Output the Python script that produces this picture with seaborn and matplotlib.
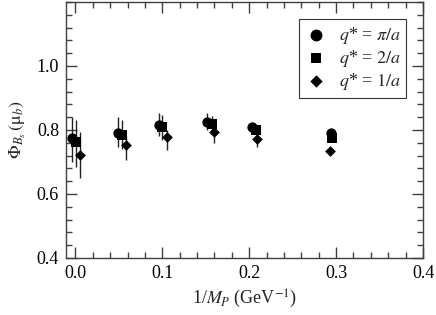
import numpy as np
import pandas as pd
import matplotlib
matplotlib.use('Agg')
import matplotlib.pyplot as plt
import seaborn as sns
from matplotlib.ticker import MultipleLocator

# data
x_pi = [-0.004, 0.049, 0.096, 0.152, 0.203, 0.294]
y_pi = [0.774, 0.792, 0.816, 0.826, 0.810, 0.790]
lo_pi = [0.700, 0.748, 0.780, 0.800, 0.797, 0.780]
hi_pi = [0.840, 0.840, 0.854, 0.853, 0.823, 0.800]

x_2 = [0.001, 0.054, 0.100, 0.157, 0.208, 0.295]
y_2 = [0.763, 0.784, 0.808, 0.819, 0.800, 0.774]
lo_2 = [0.685, 0.740, 0.770, 0.795, 0.790, 0.765]
hi_2 = [0.830, 0.830, 0.847, 0.845, 0.812, 0.785]

x_1 = [0.005, 0.058, 0.105, 0.159, 0.209, 0.293]
y_1 = [0.722, 0.753, 0.779, 0.793, 0.771, 0.734]
lo_1 = [0.650, 0.706, 0.738, 0.760, 0.748, 0.725]
hi_1 = [0.795, 0.780, 0.800, 0.810, 0.785, 0.745]

labels = [r'$q$* = $\pi/a$', r'$q$* = $2/a$', r'$q$* = $1/a$']


def main():
    sns.set_style('ticks')
    plt.rcParams['font.family'] = ['Liberation Serif', 'DejaVu Serif']
    plt.rcParams['mathtext.fontset'] = 'stix'

    fig = plt.figure(figsize=(4.36, 3.15), dpi=100)
    ax = fig.add_axes([0.1514, 0.181, 0.8188, 0.8127])

    series = [
        (x_pi, y_pi, lo_pi, hi_pi, 'o', 55),
        (x_2, y_2, lo_2, hi_2, 's', 44),
        (x_1, y_1, lo_1, hi_1, 'D', 30),
    ]
    for (xs, ys, lo, hi, mk, sz), lab in zip(series, labels):
        df = pd.DataFrame({'x': xs, 'y': ys, 'lo': lo, 'hi': hi})
        ax.vlines(df['x'], df['lo'], df['hi'], color='#222222', linewidth=1.0, zorder=2)
        sns.scatterplot(data=df, x='x', y='y', marker=mk, s=sz, color='black',
                        edgecolor='black', linewidth=0, label=lab, ax=ax, zorder=3)

    ax.set_xlim(-0.0108, 0.3975)
    ax.set_ylim(0.4, 1.2)
    ax.set_xticks([0.0, 0.1, 0.2, 0.3, 0.4])
    ax.set_yticks([0.4, 0.6, 0.8, 1.0])
    ax.xaxis.set_minor_locator(MultipleLocator(0.02))
    ax.yaxis.set_minor_locator(MultipleLocator(0.04))
    ax.set_xticklabels(['0.0', '0.1', '0.2', '0.3', '0.4'])
    ax.set_yticklabels(['0.4', '0.6', '0.8', '1.0'])

    frame = '#404040'
    for sp in ax.spines.values():
        sp.set_color(frame)
        sp.set_linewidth(1.0)
        sp.set_visible(True)
    ax.tick_params(which='both', direction='in', top=True, right=True,
                   color=frame, labelsize=13, labelcolor='black')
    ax.tick_params(which='major', length=8, width=1.0, pad=5)
    ax.tick_params(which='minor', length=4, width=1.0)

    ax.set_xlabel(r'1/$M_P$ (GeV$^{\mathrm{-1}}$)', fontsize=13, labelpad=4)
    ax.set_ylabel(r'$\Phi_{B_s}\,(\mathrm{\mu}_b)$', fontsize=13, labelpad=6)

    leg = ax.legend(loc='upper right', bbox_to_anchor=(0.953, 0.932), fontsize=13,
                    frameon=True, fancybox=False, edgecolor='black',
                    handletextpad=0.6, labelspacing=0.12, borderpad=0.3,
                    handlelength=1.3, borderaxespad=0, markerscale=1.15)
    leg.get_frame().set_linewidth(0.8)

    fig.savefig('out.png', dpi=100)
    plt.close(fig)


if __name__ == '__main__':
    main()
